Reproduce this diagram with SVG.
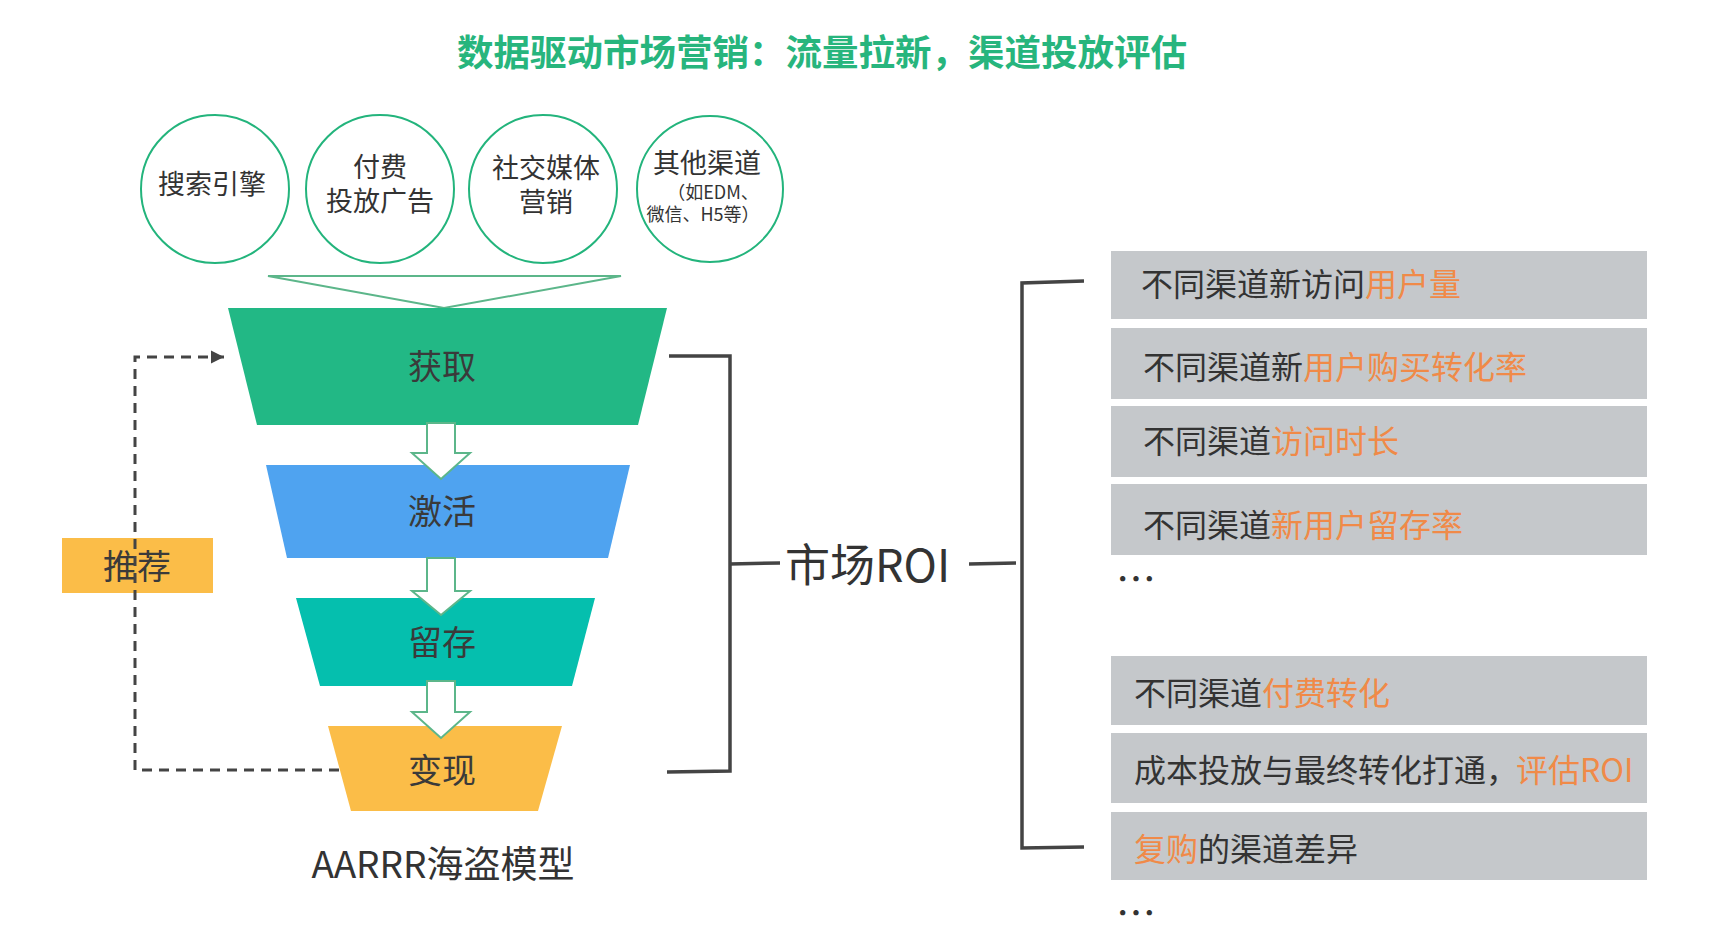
<svg xmlns="http://www.w3.org/2000/svg" width="1732" height="937" viewBox="0 0 1732 937">
<style>
text{font-family:"Noto Sans CJK SC","Liberation Sans",sans-serif;fill:#333;dominant-baseline:central}
.title{font-size:36.5px;font-weight:bold;fill:#27b57d}
.circ{fill:#fff;stroke:#23b47c;stroke-width:2}
.ct{font-size:27px;text-anchor:middle}
.cs{font-size:18px}
.ft{font-size:34px;text-anchor:middle;fill:#3a3a3a}
.arr{fill:#fff;stroke:#5cb68a;stroke-width:2}
.line{fill:none;stroke:#444;stroke-width:3.5}
.dash{fill:none;stroke:#444;stroke-width:3;stroke-dasharray:10 7}
.box{fill:#c5c8cb}
.bt{font-size:32px;fill:#333}
.or{fill:#f08a48}
.dots{font-size:40px;fill:#333}
</style>
<defs>
<marker id="ah" viewBox="0 0 10 10" refX="10" refY="5" markerWidth="4.5" markerHeight="4.5" orient="auto" markerUnits="strokeWidth">
<path d="M0,0 L10,5 L0,10 Z" fill="#444"/>
</marker>
</defs>
<rect width="1732" height="937" fill="#fff"/>
<text class="title" x="822" y="50" text-anchor="middle">数据驱动市场营销：流量拉新，渠道投放评估</text>

<g id="channel-search"><circle class="circ" cx="215" cy="189" r="74"/><text class="ct" x="212" y="182">搜索引擎</text></g>
<g id="channel-paid"><circle class="circ" cx="380" cy="189" r="74"/><text class="ct" x="380" y="165">付费<tspan x="380" dy="34">投放广告</tspan></text></g>
<g id="channel-social"><circle class="circ" cx="543" cy="189" r="74"/><text class="ct" x="546" y="166">社交媒体<tspan x="546" dy="34">营销</tspan></text></g>
<g id="channel-other"><circle class="circ" cx="710" cy="189" r="73"/><text class="ct" x="707" y="161">其他渠道<tspan class="cs" x="713" dy="30">（如EDM、</tspan><tspan class="cs" x="703" dy="22">微信、H5等）</tspan></text></g>

<g id="inflow"><polygon points="268,276 621,276 444,308" fill="#fff" stroke="#5cb68a" stroke-width="2"/></g>

<g id="stage-acquisition"><polygon points="228,308 667,308 638,425 257,425" fill="#22b885"/><text class="ft" x="442" y="364">获取</text></g>
<g id="stage-activation"><polygon points="266,465 630,465 608,558 287,558" fill="#4fa3f0"/><text class="ft" x="442" y="509">激活</text></g>
<g id="stage-retention"><polygon points="296,598 595,598 572,686 320,686" fill="#05bfae"/><text class="ft" x="442" y="640">留存</text></g>
<g id="stage-revenue"><polygon points="328,726 562,726 538,811 351,811" fill="#fbbd48"/><text class="ft" x="442" y="768">变现</text></g>

<g id="referral"><rect x="62" y="538" width="151" height="55" fill="#fbbd48"/><text class="ft" x="137" y="564">推荐</text></g>

<g id="roi"><text x="785" y="562" font-size="45" fill="#3a3a3a">市场ROI</text></g>
<g id="model-label"><text x="443" y="862" font-size="37" text-anchor="middle" fill="#3a3a3a">AARRR海盗模型</text></g>

<g id="connectors">
<polygon class="arr" points="427,423 455,423 455,453 470,453 441,479 412,453 427,453"/>
<polygon class="arr" points="427,558 455,558 455,591 470,591 441,615 412,591 427,591"/>
<polygon class="arr" points="427,681 455,681 455,712 470,712 441,738 412,712 427,712"/>
<path class="dash" d="M339,770 L135,770 L135,357 L224,357" marker-end="url(#ah)"/>
<path class="line" d="M669,356 L730,356 L730,771 L667,772"/>
<path class="line" d="M730,564 L780,563"/>
<path class="line" d="M969,564 L1016,563"/>
<path class="line" d="M1084,281 L1022,283 L1022,848 L1084,847"/>
</g>

<g id="metric-1"><rect class="box" x="1111" y="251" width="536" height="68"/><text class="bt" x="1141" y="282">不同渠道新访问<tspan class="or">用户量</tspan></text></g>
<g id="metric-2"><rect class="box" x="1111" y="328" width="536" height="71"/><text class="bt" x="1143" y="365">不同渠道新<tspan class="or">用户购买转化率</tspan></text></g>
<g id="metric-3"><rect class="box" x="1111" y="406" width="536" height="71"/><text class="bt" x="1143" y="439">不同渠道<tspan class="or">访问时长</tspan></text></g>
<g id="metric-4"><rect class="box" x="1111" y="484" width="536" height="71"/><text class="bt" x="1143" y="523">不同渠道<tspan class="or">新用户留存率</tspan></text></g>
<g id="dots-1"><text class="dots" x="1116" y="577">…</text></g>
<g id="metric-5"><rect class="box" x="1111" y="656" width="536" height="69"/><text class="bt" x="1134" y="691">不同渠道<tspan class="or">付费转化</tspan></text></g>
<g id="metric-6"><rect class="box" x="1111" y="733" width="536" height="70"/><text class="bt" x="1134" y="768">成本投放与最终转化打通，<tspan class="or" dx="-2">评估ROI</tspan></text></g>
<g id="metric-7"><rect class="box" x="1111" y="812" width="536" height="68"/><text class="bt" x="1134" y="847"><tspan class="or">复购</tspan>的渠道差异</text></g>
<g id="dots-2"><text class="dots" x="1116" y="911">…</text></g>
</svg>
